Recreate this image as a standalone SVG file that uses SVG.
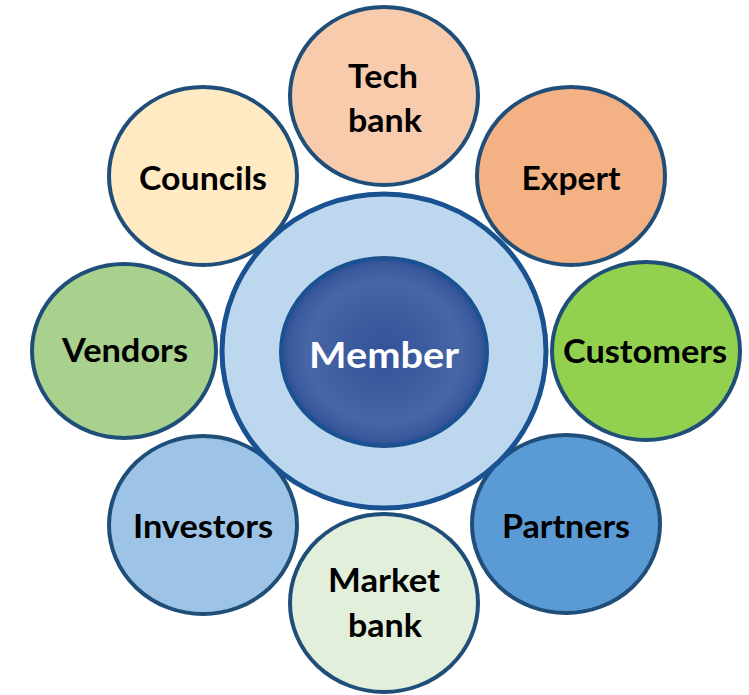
<svg xmlns="http://www.w3.org/2000/svg" width="749" height="695" viewBox="0 0 749 695">
<style>
  .sat { stroke: #1f4e79; stroke-width: 4; }
  .lbl { font-family: Lato, "Liberation Sans", sans-serif; font-weight: bold; font-size: 33px; fill: #000; text-anchor: middle; }
  .mem { font-family: Lato, "Liberation Sans", sans-serif; font-weight: bold; font-size: 37px; fill: #fff; text-anchor: middle; }
</style>
<defs>
  <radialGradient id="memGrad" cx="0.5" cy="0.5" r="0.5">
    <stop offset="0" stop-color="#34529a"/>
    <stop offset="0.4" stop-color="#3c5c9f"/>
    <stop offset="0.75" stop-color="#4766a6"/>
    <stop offset="0.92" stop-color="#3a5a9e"/>
    <stop offset="1" stop-color="#2c4e93"/>
  </radialGradient>
</defs>
<rect width="749" height="695" fill="#ffffff"/>
<g id="techbank">
  <ellipse class="sat" cx="384" cy="96" rx="94" ry="89" fill="#f8cbad"/>
  <text class="lbl" x="383" y="88" textLength="70" lengthAdjust="spacingAndGlyphs">Tech</text>
  <text class="lbl" x="385" y="132" textLength="74" lengthAdjust="spacingAndGlyphs">bank</text>
</g>
<g id="expert">
  <ellipse class="sat" cx="571" cy="176" rx="94" ry="89" fill="#f4b183"/>
  <text class="lbl" x="571" y="190" textLength="99" lengthAdjust="spacingAndGlyphs">Expert</text>
</g>
<g id="customers">
  <ellipse class="sat" cx="646" cy="351" rx="94" ry="89" fill="#92d050"/>
  <text class="lbl" x="645" y="363" textLength="164" lengthAdjust="spacingAndGlyphs">Customers</text>
</g>
<g id="partners">
  <ellipse class="sat" cx="566" cy="524" rx="94" ry="89" fill="#5b9bd5"/>
  <text class="lbl" x="566" y="538" textLength="128" lengthAdjust="spacingAndGlyphs">Partners</text>
</g>
<g id="marketbank">
  <ellipse class="sat" cx="384" cy="603" rx="94" ry="89" fill="#e2efda"/>
  <text class="lbl" x="384" y="592" textLength="112" lengthAdjust="spacingAndGlyphs">Market</text>
  <text class="lbl" x="385" y="637" textLength="74" lengthAdjust="spacingAndGlyphs">bank</text>
</g>
<g id="investors">
  <ellipse class="sat" cx="203" cy="525" rx="94" ry="89" fill="#9dc3e6"/>
  <text class="lbl" x="203" y="538" textLength="140" lengthAdjust="spacingAndGlyphs">Investors</text>
</g>
<g id="vendors">
  <ellipse class="sat" cx="124" cy="351" rx="92" ry="87" fill="#a9d18e"/>
  <text class="lbl" x="125" y="362" textLength="126" lengthAdjust="spacingAndGlyphs">Vendors</text>
</g>
<g id="councils">
  <ellipse class="sat" cx="203" cy="176" rx="94" ry="89" fill="#ffeac4"/>
  <text class="lbl" x="203" y="190" textLength="128" lengthAdjust="spacingAndGlyphs">Councils</text>
</g>
<g id="member">
  <ellipse cx="384" cy="351" rx="162" ry="157" fill="#bdd7ee" stroke="#1a5291" stroke-width="5"/>
  <ellipse cx="384" cy="352" rx="103" ry="94" fill="url(#memGrad)" stroke="#1a5291" stroke-width="4"/>
  <text class="mem" x="384" y="368" textLength="150" lengthAdjust="spacingAndGlyphs">Member</text>
</g>
<g id="connectors"></g>
</svg>
